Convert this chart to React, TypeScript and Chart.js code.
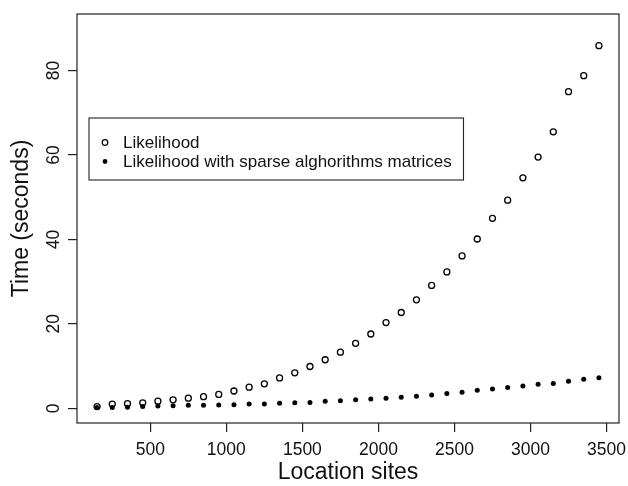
import React, { useEffect, useRef } from 'react';
import { Chart, registerables } from 'chart.js';

Chart.register(...registerables);

const locationSites = [
  150, 250, 350, 450, 550, 650, 750, 850, 950, 1050, 1150, 1250, 1350, 1450, 1550, 1650, 1750,
  1850, 1950, 2050, 2150, 2250, 2350, 2450, 2550, 2650, 2750, 2850, 2950, 3050, 3150, 3250, 3350, 3450,
];
const likelihood = [
  0.4, 1.0, 1.1, 1.3, 1.7, 2.0, 2.4, 2.75, 3.3, 4.1, 5.0, 5.8, 7.2, 8.4, 9.9, 11.5, 13.3,
  15.4, 17.6, 20.3, 22.7, 25.7, 29.1, 32.3, 36.1, 40.1, 45.0, 49.3, 54.6, 59.5, 65.5, 75.0, 78.8, 85.9,
];
const likelihoodSparse = [
  0.2, 0.2, 0.24, 0.4, 0.55, 0.6, 0.7, 0.7, 0.8, 0.85, 1.0, 1.0, 1.2, 1.3, 1.4, 1.65, 1.8,
  2.0, 2.2, 2.4, 2.6, 2.85, 3.15, 3.5, 3.8, 4.25, 4.6, 4.9, 5.3, 5.7, 5.85, 6.4, 6.9, 7.25,
];
const seriesLabels = ['Likelihood', 'Likelihood with sparse alghorithms matrices'];
const xTicks = [500, 1000, 1500, 2000, 2500, 3000, 3500];
const yTicks = [0, 20, 40, 60, 80];
const xTitle = 'Location sites';
const yTitle = 'Time (seconds)';

const FONT = "'Liberation Sans', Arial, Helvetica, sans-serif";

const boxAndLegend = {
  id: 'boxAndLegend',
  afterDatasetsDraw(chart: any) {
    const { ctx, chartArea } = chart;
    ctx.save();
    ctx.strokeStyle = '#222';
    ctx.lineWidth = 1.2;
    ctx.strokeRect(chartArea.left, chartArea.top, chartArea.right - chartArea.left, chartArea.bottom - chartArea.top);

    // legend
    const lx = 89, ly = 118, lw = 374.5, lh = 62;
    ctx.fillStyle = '#fff';
    ctx.fillRect(lx, ly, lw, lh);
    ctx.lineWidth = 1.1;
    ctx.strokeRect(lx, ly, lw, lh);
    const rows = [142.5, 161.5];
    chart.data.datasets.forEach((ds: any, i: number) => {
      const y = rows[i];
      ctx.beginPath();
      if (i === 0) {
        ctx.arc(105, y, 2.8, 0, Math.PI * 2);
        ctx.lineWidth = 1.2;
        ctx.strokeStyle = '#000';
        ctx.stroke();
      } else {
        ctx.arc(105, y, 2.4, 0, Math.PI * 2);
        ctx.fillStyle = '#000';
        ctx.fill();
      }
      ctx.fillStyle = '#111';
      ctx.font = `17px ${FONT}`;
      ctx.textBaseline = 'middle';
      ctx.textAlign = 'left';
      ctx.fillText(ds.label, 123, y + 0.5);
    });
    ctx.restore();
  },
};

export default function App() {
  const ref = useRef<HTMLCanvasElement>(null);
  useEffect(() => {
    if (!ref.current) return;
    const chart = new Chart(ref.current, {
      type: 'scatter',
      data: {
        datasets: [
          {
            label: seriesLabels[0],
            data: locationSites.map((x, i) => ({ x, y: likelihood[i] })),
            pointRadius: 3,
            pointBorderWidth: 1.3,
            pointBorderColor: '#000',
            pointBackgroundColor: 'rgba(0,0,0,0)',
            showLine: false,
          },
          {
            label: seriesLabels[1],
            data: locationSites.map((x, i) => ({ x, y: likelihoodSparse[i] })),
            pointRadius: 2.5,
            pointBorderWidth: 0,
            pointBorderColor: '#000',
            pointBackgroundColor: '#000',
            showLine: false,
          },
        ],
      },
      options: {
        animation: false,
        responsive: false,
        devicePixelRatio: 1,
        layout: { padding: { top: 14, right: 9, left: 0, bottom: 0 } },
        plugins: { legend: { display: false }, tooltip: { enabled: false } },
        scales: {
          x: {
            type: 'linear',
            min: 18,
            max: 3582,
            afterBuildTicks: (s: any) => {
              s.ticks = xTicks.map((v) => ({ value: v }));
            },
            afterFit: (s: any) => {
              s.height = 63;
              s.paddingLeft = 0;
              s.paddingRight = 0;
            },
            border: { display: false },
            grid: { display: true, drawOnChartArea: false, drawTicks: true, tickLength: 9, color: '#222', lineWidth: 1.2 },
            ticks: {
              color: '#111',
              font: { family: FONT, size: 17.5 },
              padding: 8,
              maxRotation: 0,
              minRotation: 0,
              autoSkip: false,
              callback: (v: any) => String(v),
            },
            title: {
              display: true,
              text: xTitle,
              color: '#111',
              font: { family: FONT, size: 23 },
              padding: { top: 2, bottom: 0 },
            },
          },
          y: {
            type: 'linear',
            min: -3.48,
            max: 93.4,
            afterBuildTicks: (s: any) => {
              s.ticks = yTicks.map((v) => ({ value: v }));
            },
            afterFit: (s: any) => {
              s.width = 77;
              s.paddingTop = 0;
              s.paddingBottom = 0;
            },
            border: { display: false },
            grid: { display: true, drawOnChartArea: false, drawTicks: true, tickLength: 9, color: '#222', lineWidth: 1.2 },
            ticks: {
              color: '#111',
              font: { family: FONT, size: 17.5 },
              padding: 4,
              minRotation: 90,
              maxRotation: 90,
              crossAlign: 'center',
              autoSkip: false,
              callback: (v: any) => String(v),
            },
            title: {
              display: true,
              text: yTitle,
              color: '#111',
              font: { family: FONT, size: 23 },
              padding: { top: 8, bottom: 0 },
            },
          },
        },
      },
      plugins: [boxAndLegend],
    } as any);
    return () => chart.destroy();
  }, []);
  return (
    <div style={{ position: 'absolute', left: 0, top: 0, width: 628, height: 486, background: '#fff' }}>
      <canvas ref={ref} width={628} height={486} style={{ display: 'block', width: 628, height: 486 }} />
    </div>
  );
}
